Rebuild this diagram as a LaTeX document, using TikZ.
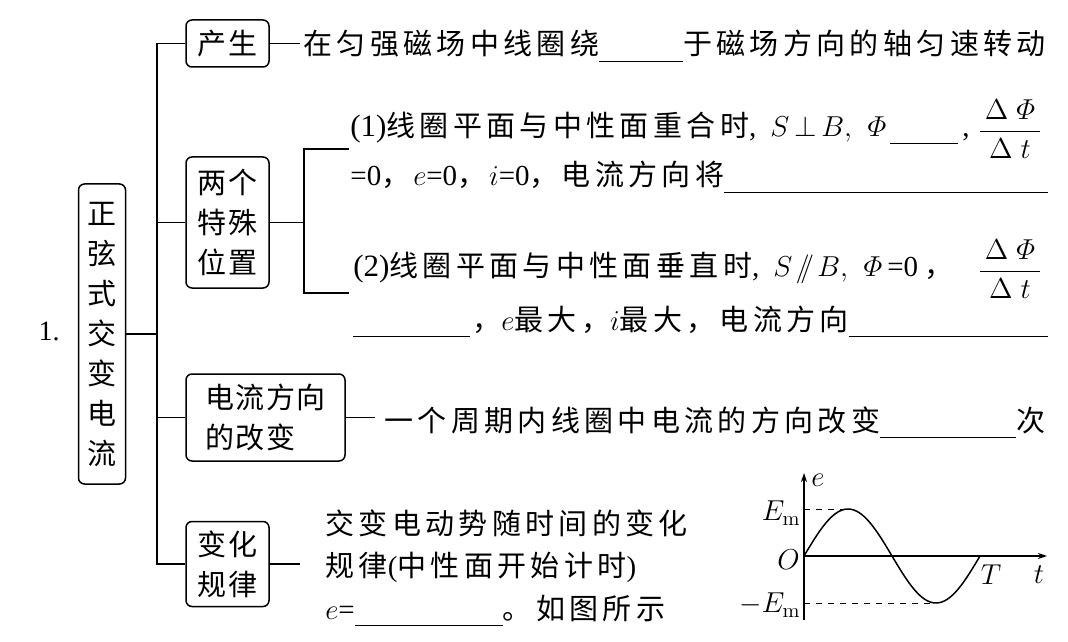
\documentclass[tikz,border=0pt]{standalone}
\usepackage{amsmath,amssymb}
\usepackage{fontspec}
\newfontfamily\cjk[LetterSpace=15]{Noto Sans CJK SC}
\newfontfamily\cjkbox[LetterSpace=4]{Noto Sans CJK SC}
\newfontfamily\lat{Liberation Serif}
\usetikzlibrary{arrows.meta}
\newcommand\fillin[1]{\rule[-3.6pt]{#1}{0.6pt}}
\newcommand\fillrest{\leaders\hrule height -3pt depth 3.6pt\hfill}
\newcommand\itemno[1]{{\lat\fontsize{15.5}{18}\selectfont #1}}
\tikzset{
  map line/.style={
    line width=0.75pt,         % branch lines
  },
  topic box/.style={
    draw, line width=0.75pt, rounded corners=3pt,
    inner sep=0pt, align=center,
    font=\cjkbox\fontsize{14.5}{20}\selectfont
  },
  body text/.style={
    inner sep=0pt, anchor=base west,
    font=\cjk\fontsize{14.5}{21}\selectfont
  },
  axis label/.style={
    inner sep=0pt, font=\fontsize{14.5}{17}\selectfont
  },
  ratio/.style={
    inner sep=0pt, font=\fontsize{14.4}{17}\selectfont
  },
}

\begin{document}
\begin{tikzpicture}[x=0.5pt, y=-0.5pt, >={Stealth[length=4.5pt,width=3pt]}]
    \useasboundingbox (0,0) rectangle (1068,641);

    % Main topic
    \node[font=\lat\fontsize{14}{16}\selectfont] (num) at (49,331) {1.};
    \node[topic box, minimum width=23.5pt, minimum height=150pt] (main) at (102,334)
        {正\\弦\\式\\交\\变\\电\\流};

    % Branches
    \node[topic box, minimum width=41.5pt, minimum height=23.5pt] (gen) at (227.5,43.5) {产生};
    \node[topic box, minimum width=41.5pt, minimum height=65.5pt] (two) at (227.5,222.5) {两个\\特殊\\位置};
    \node[topic box, minimum width=79.5pt, minimum height=43.5pt, align=left] (dir) at (265.5,417.5) {电流方向\\的改变};
    \node[topic box, minimum width=41.5pt, minimum height=42.5pt] (law) at (227.5,564) {变化\\规律};

    \coordinate (tk) at (157,334);
    \draw[map line] (main.east) -- (tk);
    \draw[map line] (gen.west) -- (gen.west -| tk) -- (law.west -| tk) -- (law.west);
    \foreach \b in {two,dir} {
        \draw[map line] (\b.west) -- (\b.west -| tk);
    }

    % Generation
    \node[body text, inner xsep=1.5pt] (gentxt) at (300,55)
        {在匀强磁场中线圈绕\fillin{42pt}于磁场方向的轴匀速转动};
    \draw[map line] (gen.east) -- (gen.east -| gentxt.west);

    % Two special positions
    \node[body text] (pos1a) at (350,137)
        {\itemno{(1)}线圈平面与中性面重合时{\lat ,}\hspace{7pt}$S\mkern3mu{\perp}\mkern3mu B,\ \varPhi$\hspace{2pt}\fillin{34pt}\hspace{2pt}{\lat ,}};
    \node[ratio] (frac1) at (1010,129)
        {$\dfrac{\,\Delta\;\varPhi\,}{\Delta\;t}$};
    \node[body text] (pos1b) at (350,186)
        {\makebox[349pt][l]{{\lat =0}，\hspace{1.5pt}$e${\lat =0}，\hspace{1.5pt}$i${\lat =0}，\hspace{1.5pt}电流方向将\fillrest}};
    \node[body text] (pos2a) at (353,277)
        {\itemno{(2)}线圈平面与中性面垂直时{\lat ,}\hspace{7pt}$S\mkern2mu/\!\!/\mkern2mu B,\ \varPhi$\,{\lat =0}\hspace{3pt}，};
    \node[ratio] (frac2) at (1010,269)
        {$\dfrac{\,\Delta\;\varPhi\,}{\Delta\;t}$};
    \node[body text] (pos2b) at (353,330)
        {\makebox[347.5pt][l]{\fillin{58.5pt}\hspace{1pt}，$e$最大，$i$最大，电流方向\fillrest}};

    \coordinate (bx) at (304,222.5);
    \coordinate (b1) at (349,149);
    \coordinate (b2) at (349,293);
    \draw[map line] (two.east) -- (bx);
    \draw[map line] (b1) -| (bx) |- (b2);

    % Direction change
    \node[body text, inner xsep=4.5pt] (dirtxt) at (375,431)
        {一个周期内线圈中电流的方向改变\fillin{68pt}次};
    \draw[map line] (dir.east) -- (dir.east -| dirtxt.west);

    % Law of variation
    \node[body text] (law1) at (325,534) {交变电动势随时间的变化};
    \node[body text, inner xsep=12.5pt] (law2) at (300,576) {规律{\lat (}中性面开始计时{\lat )}};
    \node[body text] (law3) at (325,619) {$e${\lat =}\fillin{74pt}。如图所示};
    \draw[map line] (law.east) -- (law.east -| law2.west);

    % Axes
    \draw[map line, ->] (804,620) -- (804,473);
    \draw[map line, ->] (804,556) -- (1047,556);
    \draw[map line, domain=0:176, samples=80, smooth]
        plot ({804+\x}, {556-47*sin(\x/176*360)});
    \draw[line width=0.5pt, dashed] (804,509) -- (848,509);
    \draw[line width=0.5pt, dashed] (804,603) -- (936,603);

    \node[axis label] (elab) at (818,480) {$e$};
    \node[axis label, anchor=east] (emax) at (801,513) {$E_{\mathrm m}$};
    \node[axis label, anchor=east] (orig) at (800,560) {$O$};
    \node[axis label, anchor=east] (emin) at (801,605) {$-E_{\mathrm m}$};
    \node[axis label] (per) at (991,575) {$T$};
    \node[axis label] (tlab) at (1039,575) {$t$};
\end{tikzpicture}
\end{document}
